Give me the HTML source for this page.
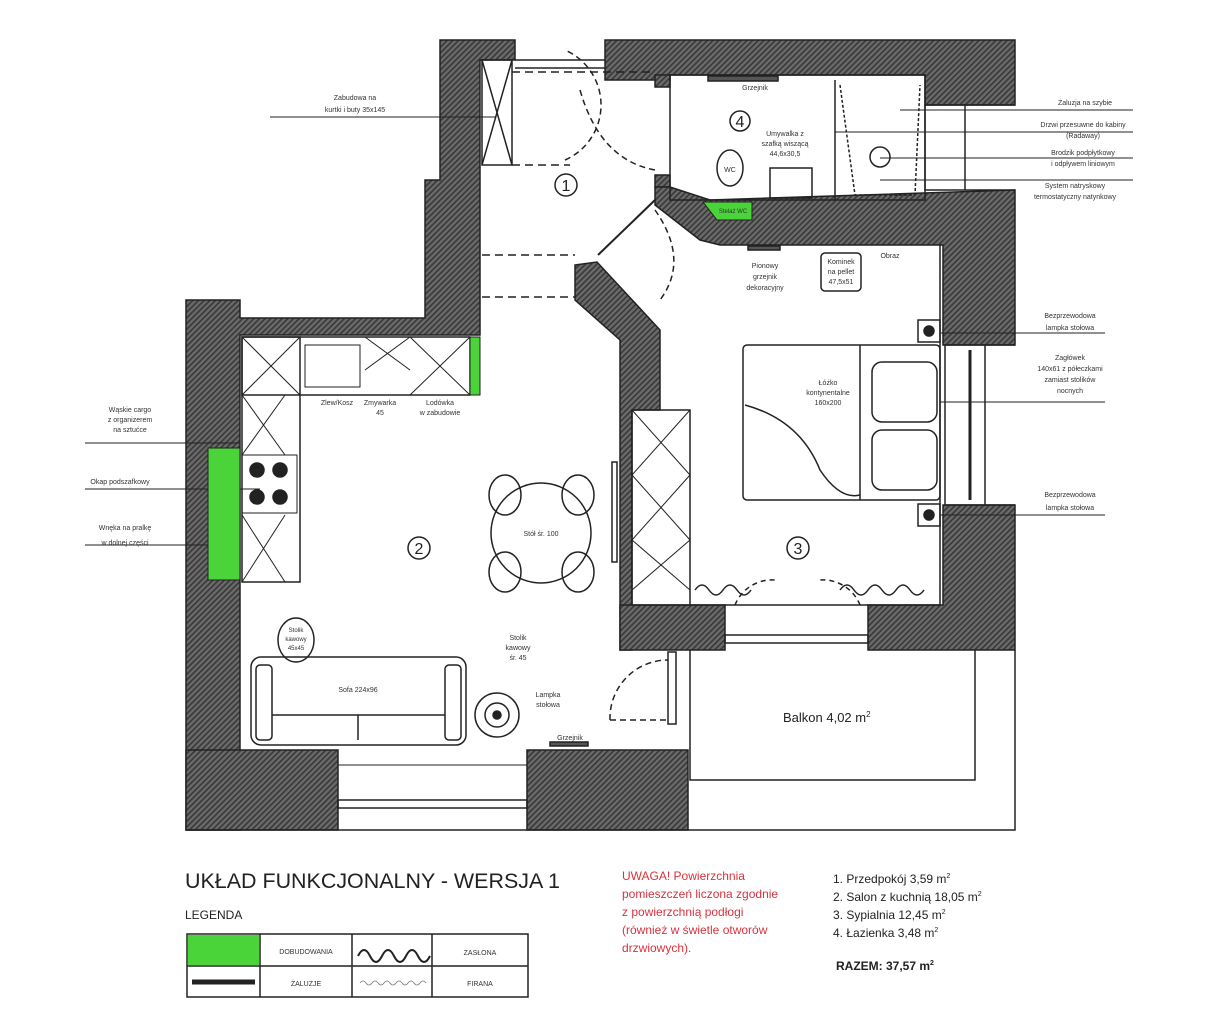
<!DOCTYPE html>
<html><head><meta charset="utf-8"><style>
html,body{margin:0;padding:0;background:#fff;}
svg{display:block;font-family:"Liberation Sans",sans-serif;}
.t{font-size:7px;fill:#333;}
</style></head><body>
<svg width="1219" height="1024" viewBox="0 0 1219 1024" xmlns="http://www.w3.org/2000/svg">
<defs>
<pattern id="h" width="4" height="4" patternUnits="userSpaceOnUse" patternTransform="rotate(45)">
<rect width="4" height="4" fill="#6a6a6a"/><rect width="1.6" height="4" fill="#383838"/>
</pattern>
</defs>
<g fill="url(#h)" stroke="#222" stroke-width="1.5">
<polygon points="440,40 515,40 515,60 480,60 480,335 240,335 240,830 186,830 186,300 240,300 240,318 425,318 425,180 440,180"/>
<polygon points="605,40 1015,40 1015,105 925,105 925,75 670,75 670,80 605,80"/>
<rect x="655" y="75" width="15" height="12"/>
<rect x="655" y="175" width="15" height="12"/>
<polygon points="655,187 670,187 710,200 1015,190 1015,345 943,345 943,245 720,245 700,240 655,205"/>
<polygon points="575,265 597,262 660,330 660,410 632,410 632,650 620,650 620,340 575,300"/>
<polygon points="943,505 1015,505 1015,650 868,650 868,605 943,605"/>
<rect x="620" y="605" width="105" height="45"/>
<rect x="186" y="750" width="152" height="80"/>
<rect x="527" y="750" width="161" height="80"/>
</g>
<g fill="none" stroke="#222" stroke-width="1.5">
<polyline points="186,830 1015,830 1015,650"/>
<polyline points="690,650 690,780 975,780 975,650"/>
<rect x="338" y="800" width="189" height="8"/>
<line x1="338" y1="765" x2="527" y2="765" stroke-width="1"/>
<line x1="515" y1="60" x2="605" y2="60"/><line x1="515" y1="68" x2="605" y2="68"/>
<rect x="925" y="105" width="40" height="85"/><line x1="965" y1="105" x2="1015" y2="105"/><line x1="965" y1="190" x2="1015" y2="190"/>
<rect x="945" y="345" width="40" height="160"/><line x1="985" y1="345" x2="1015" y2="345"/><line x1="985" y1="505" x2="1015" y2="505"/>
<line x1="970" y1="350" x2="970" y2="500" stroke-width="3"/>
<rect x="725" y="635" width="143" height="8"/>
<rect x="670" y="75" width="255" height="125"/>
<line x1="835" y1="80" x2="835" y2="200"/>
<rect x="708" y="76" width="70" height="5" fill="#555"/>
<circle cx="740" cy="121" r="10"/>
<ellipse cx="730" cy="168" rx="13" ry="18"/>
<rect x="770" y="168" width="42" height="30"/>
<circle cx="880" cy="157" r="10"/>
<polyline points="840,85 855,195 915,195 920,85" stroke-dasharray="3,2"/>
<rect x="482" y="60" width="30" height="105"/>
<line x1="482" y1="60" x2="512" y2="165"/><line x1="512" y1="60" x2="482" y2="165"/>
<line x1="482" y1="255" x2="575" y2="255" stroke-dasharray="8,5"/>
<line x1="482" y1="297" x2="575" y2="297" stroke-dasharray="8,5"/>
<line x1="512" y1="72" x2="655" y2="72" stroke-dasharray="8,5"/>
<line x1="512" y1="165" x2="570" y2="165" stroke-dasharray="8,5"/>
<path d="M565,160 A60,60 0 0 0 565,50" stroke-dasharray="6,4"/>
<path d="M580,90 Q600,160 655,170" stroke-dasharray="6,4"/>
<path d="M655,210 Q690,260 660,300" stroke-dasharray="6,4"/>
<line x1="598" y1="255" x2="655" y2="200" stroke-width="2"/>
<circle cx="566" cy="185" r="11"/>
<rect x="242" y="337" width="228" height="58"/>
<rect x="242" y="337" width="58" height="245"/>
<g stroke-width="1">
<line x1="242" y1="337" x2="300" y2="395"/><line x1="300" y1="337" x2="242" y2="395"/>
<line x1="365" y1="337" x2="410" y2="370"/><line x1="410" y1="337" x2="365" y2="370"/>
<line x1="410" y1="337" x2="470" y2="395"/><line x1="470" y1="337" x2="410" y2="395"/>
<line x1="242" y1="395" x2="285" y2="455"/><line x1="285" y1="395" x2="242" y2="455"/>
<line x1="242" y1="515" x2="285" y2="582"/><line x1="285" y1="515" x2="242" y2="582"/>
<rect x="305" y="345" width="55" height="42"/>
<rect x="242" y="455" width="55" height="58"/>
</g>
<g fill="#222"><circle cx="257" cy="470" r="7"/><circle cx="280" cy="470" r="7"/><circle cx="257" cy="497" r="7"/><circle cx="280" cy="497" r="7"/></g>
<circle cx="541" cy="533" r="50"/>
<ellipse cx="505" cy="495" rx="16" ry="20"/><ellipse cx="578" cy="495" rx="16" ry="20"/>
<ellipse cx="505" cy="572" rx="16" ry="20"/><ellipse cx="578" cy="572" rx="16" ry="20"/>
<rect x="612" y="462" width="5" height="100"/>
<circle cx="419" cy="548" r="11"/>
<rect x="251" y="657" width="215" height="88" rx="10"/>
<rect x="256" y="665" width="16" height="75" rx="4"/><rect x="445" y="665" width="16" height="75" rx="4"/>
<line x1="272" y1="715" x2="445" y2="715"/><line x1="358" y1="715" x2="358" y2="740"/>
<ellipse cx="296" cy="640" rx="18" ry="22"/>
<circle cx="497" cy="715" r="22"/><circle cx="497" cy="715" r="12"/><circle cx="497" cy="715" r="4" fill="#222"/>
<rect x="550" y="742" width="38" height="4" fill="#555"/>
<path d="M610,720 A58,58 0 0 1 668,660" stroke-dasharray="6,4"/>
<line x1="610" y1="720" x2="668" y2="720" stroke-dasharray="6,4"/>
<rect x="668" y="652" width="8" height="72"/>
<rect x="632" y="410" width="58" height="195"/>
<g stroke-width="1"><line x1="632" y1="410" x2="690" y2="475"/><line x1="690" y1="410" x2="632" y2="475"/>
<line x1="632" y1="475" x2="690" y2="540"/><line x1="690" y1="475" x2="632" y2="540"/>
<line x1="632" y1="540" x2="690" y2="590"/><line x1="690" y1="540" x2="632" y2="590"/></g>
<polyline points="690,605 940,605 940,245"/>
<rect x="743" y="345" width="197" height="155" rx="4"/>
<line x1="860" y1="345" x2="860" y2="500"/>
<rect x="872" y="362" width="65" height="60" rx="10"/><rect x="872" y="430" width="65" height="60" rx="10"/>
<rect x="918" y="320" width="22" height="22"/><circle cx="929" cy="331" r="5" fill="#222"/>
<rect x="918" y="504" width="22" height="22"/><circle cx="929" cy="515" r="5" fill="#222"/>
<path d="M745,405 Q800,420 820,470 Q840,500 860,495"/>
<rect x="821" y="253" width="40" height="38" rx="4"/>
<rect x="748" y="246" width="32" height="4" fill="#555"/>
<path d="M695,590 q7,-10 14,0 t14,0 t14,0 t14,0 M840,590 q7,-10 14,0 t14,0 t14,0 t14,0 t14,0 t14,0"/>
<path d="M735,605 A40,40 0 0 1 775,580 M860,605 A40,40 0 0 0 820,580" stroke-dasharray="5,4"/>
<circle cx="798" cy="548" r="11"/>
<g stroke-width="1">
<line x1="270" y1="117" x2="495" y2="117"/>
<line x1="85" y1="443" x2="240" y2="443"/>
<line x1="85" y1="489" x2="260" y2="489"/>
<line x1="85" y1="545" x2="228" y2="545"/>
<line x1="900" y1="110" x2="1133" y2="110"/>
<line x1="835" y1="132" x2="1133" y2="132"/>
<line x1="880" y1="158" x2="1133" y2="158"/>
<line x1="880" y1="180" x2="1133" y2="180"/>
<line x1="940" y1="333" x2="1105" y2="333"/>
<line x1="940" y1="402" x2="1105" y2="402"/>
<line x1="940" y1="515" x2="1105" y2="515"/>
</g>
</g>
<g fill="#4bd33a" stroke="#222" stroke-width="1">
<rect x="470" y="337" width="10" height="58"/>
<rect x="208" y="448" width="32" height="132"/>
<polygon points="703,202 752,202 752,220 717,220"/>
</g>
<g class="t" text-anchor="middle">
<text x="355" y="100">Zabudowa na</text><text x="355" y="112">kurtki i buty 35x145</text>
<text x="755" y="90">Grzejnik</text>
<text x="785" y="136">Umywalka z</text><text x="785" y="146">szafką wiszącą</text><text x="785" y="156">44,6x30,5</text>
<text x="730" y="172">WC</text>
<text x="733" y="213" font-size="6">Stelaż WC</text>
<text x="765" y="268">Pionowy</text><text x="765" y="279">grzejnik</text><text x="765" y="290">dekoracyjny</text>
<text x="841" y="264">Kominek</text><text x="841" y="274">na pellet</text><text x="841" y="284">47,5x51</text>
<text x="890" y="258">Obraz</text>
<text x="828" y="385">Łóżko</text><text x="828" y="395">kontynentalne</text><text x="828" y="405">160x200</text>
<text x="337" y="405">Zlew/Kosz</text>
<text x="380" y="405">Zmywarka</text><text x="380" y="415">45</text>
<text x="440" y="405">Lodówka</text><text x="440" y="415">w zabudowie</text>
<text x="130" y="412">Wąskie cargo</text><text x="130" y="422">z organizerem</text><text x="130" y="432">na sztućce</text>
<text x="120" y="484">Okap podszafkowy</text>
<text x="125" y="530">Wnęka na pralkę</text><text x="125" y="545">w dolnej części</text>
<text x="541" y="536">Stół śr. 100</text>
<text x="296" y="632" font-size="6">Stolik</text><text x="296" y="641" font-size="6">kawowy</text><text x="296" y="650" font-size="6">45x45</text>
<text x="358" y="692">Sofa 224x96</text>
<text x="518" y="640">Stolik</text><text x="518" y="650">kawowy</text><text x="518" y="660">śr. 45</text>
<text x="548" y="697">Lampka</text><text x="548" y="707">stołowa</text>
<text x="570" y="740">Grzejnik</text>
<text x="1085" y="105">Żaluzja na szybie</text>
<text x="1083" y="127">Drzwi przesuwne do kabiny</text><text x="1083" y="138">(Radaway)</text>
<text x="1083" y="155">Brodzik podpłytkowy</text><text x="1083" y="166">i odpływem liniowym</text>
<text x="1075" y="188">System natryskowy</text><text x="1075" y="199">termostatyczny natynkowy</text>
<text x="1070" y="318">Bezprzewodowa</text><text x="1070" y="330">lampka stołowa</text>
<text x="1070" y="360">Zagłówek</text><text x="1070" y="371">140x61 z półeczkami</text><text x="1070" y="382">zamiast stolików</text><text x="1070" y="393">nocnych</text>
<text x="1070" y="497">Bezprzewodowa</text><text x="1070" y="510">lampka stołowa</text>
</g>
<g font-size="16" fill="#222" text-anchor="middle">
<text x="566" y="191">1</text><text x="740" y="127">4</text><text x="419" y="554">2</text><text x="798" y="554">3</text>
</g>
<text x="783" y="722" font-size="13" fill="#222">Balkon 4,02 m<tspan font-size="8" dy="-5">2</tspan></text>
<text x="185" y="888" font-size="21" fill="#222" textLength="375" lengthAdjust="spacingAndGlyphs">UKŁAD FUNKCJONALNY - WERSJA 1</text>
<text x="185" y="919" font-size="12" fill="#222">LEGENDA</text>
<g stroke="#222" stroke-width="1.5" fill="none">
<rect x="187" y="934" width="341" height="63"/>
<line x1="187" y1="966" x2="528" y2="966"/>
<line x1="260" y1="934" x2="260" y2="997"/><line x1="352" y1="934" x2="352" y2="997"/><line x1="432" y1="934" x2="432" y2="997"/>
<path d="M358,956 q6,-12 12,0 t12,0 t12,0 t12,0 t12,0 t12,0" stroke-width="2"/>
<path d="M360,983 q3,-4 6,0 t6,0 t6,0 t6,0 t6,0 t6,0 t6,0 t6,0 t6,0 t6,0 t6,0" stroke-width="0.8" stroke="#777"/>
<line x1="192" y1="982" x2="255" y2="982" stroke-width="5"/>
</g>
<rect x="188" y="935" width="71" height="30" fill="#4bd33a"/>
<g font-size="7" fill="#333" text-anchor="middle">
<text x="306" y="954">DOBUDOWANIA</text><text x="480" y="955">ZASŁONA</text>
<text x="306" y="986">ŻALUZJE</text><text x="480" y="986">FIRANA</text>
</g>
<g font-size="12" fill="#d9323c">
<text x="622" y="880">UWAGA! Powierzchnia</text>
<text x="622" y="898">pomieszczeń liczona zgodnie</text>
<text x="622" y="916">z powierzchnią podłogi</text>
<text x="622" y="934">(również w świetle otworów</text>
<text x="622" y="952">drzwiowych).</text>
</g>
<g font-size="12" fill="#222">
<text x="833" y="883">1. Przedpokój 3,59 m<tspan font-size="7" dy="-5">2</tspan></text>
<text x="833" y="901">2. Salon z kuchnią 18,05 m<tspan font-size="7" dy="-5">2</tspan></text>
<text x="833" y="919">3. Sypialnia 12,45 m<tspan font-size="7" dy="-5">2</tspan></text>
<text x="833" y="937">4. Łazienka 3,48 m<tspan font-size="7" dy="-5">2</tspan></text>
<text x="836" y="970" font-weight="bold">RAZEM: 37,57 m<tspan font-size="7" dy="-5">2</tspan></text>
</g>
</svg>
</body></html>
